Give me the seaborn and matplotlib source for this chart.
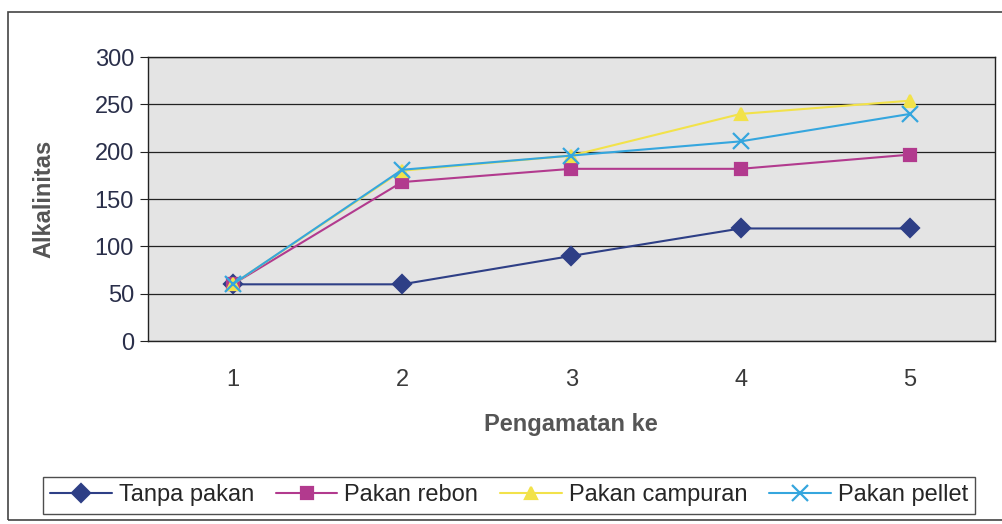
import matplotlib
matplotlib.use("Agg")
import matplotlib.pyplot as plt
import matplotlib.patches as patches
import pandas as pd
import seaborn as sns

# observation number (x) and alkalinity per feed treatment
pengamatan = [1, 2, 3, 4, 5]
tanpa_pakan = [60, 60, 90, 119, 119]
pakan_rebon = [60, 168, 182, 182, 197]
pakan_campuran = [60, 180, 196, 240, 254]
pakan_pellet = [60, 181, 196, 211, 240]

series_names = ["Tanpa pakan", "Pakan rebon", "Pakan campuran", "Pakan pellet"]
y_ticks = [0, 50, 100, 150, 200, 250, 300]

df = pd.DataFrame({
    "Pengamatan ke": pengamatan * 4,
    "Alkalinitas": tanpa_pakan + pakan_rebon + pakan_campuran + pakan_pellet,
    "Perlakuan": sum([[n] * len(pengamatan) for n in series_names], []),
})

sns.set_style("white")
plt.rcParams["font.family"] = ["Liberation Sans", "DejaVu Sans"]

colors = {"Tanpa pakan": "#2e3f86", "Pakan rebon": "#b23a8e",
          "Pakan campuran": "#f2e24a", "Pakan pellet": "#35a6de"}
markers = {"Tanpa pakan": "D", "Pakan rebon": "s",
           "Pakan campuran": "^", "Pakan pellet": "X"}

fig = plt.figure(figsize=(10.02, 5.24), dpi=100)
ax = fig.add_axes([0.1477, 0.349, 0.845, 0.542])
ax.set_facecolor("#e4e4e4")

sns.lineplot(data=df, x="Pengamatan ke", y="Alkalinitas", hue="Perlakuan",
             style="Perlakuan", palette=colors, markers=markers, dashes=False,
             markersize=9, linewidth=1.5, markeredgewidth=1.6, ax=ax, legend=True)

def fix_marker(ln):
    # marker edges same colour as the line; pellet uses a thin x like Excel
    ln.set_markeredgecolor(ln.get_color())
    if ln.get_marker() == "X":
        ln.set_marker("x")
        ln.set_markersize(11)

for ln in ax.lines:
    fix_marker(ln)

# Excel-like axes: categories between ticks
ax.set_xlim(0.5, 5.5)
ax.set_ylim(0, 300)
ax.set_yticks(y_ticks)
ax.set_xticks(pengamatan)
ax.set_xticks([0.5, 1.5, 2.5, 3.5, 4.5, 5.5], minor=True)
ax.tick_params(axis="x", which="major", length=0, pad=20, labelsize=17, labelcolor="#3a3a3a")
ax.tick_params(axis="x", which="minor", length=6, direction="out", color="#222222")
ax.tick_params(axis="y", length=6, direction="out", color="#222222", labelsize=17,
               labelcolor="#2a2f4a", pad=4, left=True)
ax.grid(axis="y", color="#222222", linewidth=0.9)
ax.set_axisbelow(True)
for s in ax.spines.values():
    s.set_color("#222222")
    s.set_linewidth(1.0)

ax.set_xlabel("Pengamatan ke", fontsize=17, fontweight="bold", color="#555555", labelpad=16)
ax.set_ylabel("Alkalinitas", fontsize=17, fontweight="bold", color="#555555", labelpad=28)

handles, labels = ax.get_legend_handles_labels()
for h in handles:
    fix_marker(h)
ax.legend(handles, labels, loc="lower left", ncol=4,
          bbox_to_anchor=(0.043, 0.02, 0.93, 0.075), bbox_transform=fig.transFigure,
          mode="expand", frameon=True, fancybox=False, edgecolor="#222222",
          fontsize=17, handlelength=2.6, handletextpad=0.3, columnspacing=0.6,
          borderpad=0.3, borderaxespad=0)
ax.get_legend().get_frame().set_linewidth(1.0)

# outer chart-area border
fig.patches.append(patches.Rectangle((0.008, 0.008), 1.2, 0.969, transform=fig.transFigure,
                                     fill=False, edgecolor="#444444", linewidth=1.2))

fig.savefig("out.png", dpi=100, facecolor="white")
